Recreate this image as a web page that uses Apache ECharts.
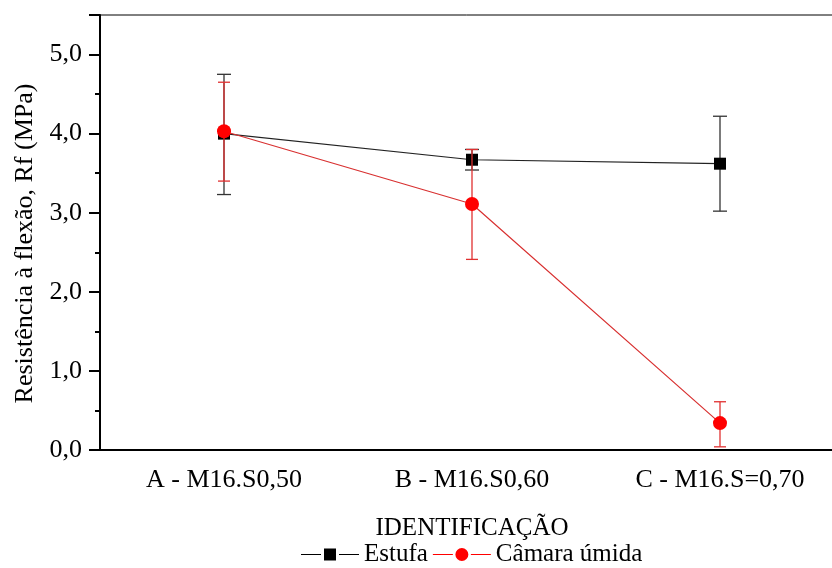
<!DOCTYPE html>
<html>
<head>
<meta charset="utf-8">
<script src="https://cdn.jsdelivr.net/npm/echarts@6/dist/echarts.min.js"></script>
<style>html,body{margin:0;padding:0;background:#fff}#c{width:832px;height:568px}</style>
</head>
<body>
<div id="c"></div>
<script>
const categories = ['A - M16.S0,50', 'B - M16.S0,60', 'C - M16.S=0,70'];
const estufa = [4.00, 3.67, 3.62];
const estufaLow = [3.23, 3.54, 3.02];
const estufaHigh = [4.75, 3.80, 4.22];
const camara = [4.03, 3.11, 0.34];
const camaraLow = [3.40, 2.41, 0.04];
const camaraHigh = [4.65, 3.80, 0.61];
const yTicks = [0, 1, 2, 3, 4, 5];

const FONT = '"Liberation Serif", "Times New Roman", serif';

function errData(low, high) {
  return low.map((l, i) => [i, l, high[i]]);
}
function errRender(color, capW) {
  return function (params, api) {
    const i = api.value(0);
    const lo = api.coord([i, api.value(1)]);
    const hi = api.coord([i, api.value(2)]);
    const st = { stroke: color, lineWidth: 1.3 };
    return {
      type: 'group',
      children: [
        { type: 'line', shape: { x1: lo[0], y1: lo[1], x2: hi[0], y2: hi[1] }, style: st },
        { type: 'line', shape: { x1: lo[0] - capW / 2, y1: lo[1], x2: lo[0] + capW / 2, y2: lo[1] }, style: st },
        { type: 'line', shape: { x1: hi[0] - capW / 2, y1: hi[1], x2: hi[0] + capW / 2, y2: hi[1] }, style: st }
      ]
    };
  };
}

const iconEstufa = 'path://M0,5.9h20v1.2h-20z M23,0.5h12v12h-12z M38,5.9h20v1.2h-20z';
const iconCamara = 'path://M0,5.9h20v1.2h-20z M22.5,6.5a6.5,6.5 0 1,0 13,0a6.5,6.5 0 1,0 -13,0z M38,5.9h20v1.2h-20z';

const chart = echarts.init(document.getElementById('c'));
chart.setOption({
  animation: false,
  backgroundColor: '#fff',
  grid: { left: 100, right: -12, top: 15, bottom: 118, outerBoundsMode: 'none', containLabel: false, show: true, borderColor: '#000', borderWidth: 1, backgroundColor: 'transparent' },
  legend: {
    top: 537,
    left: 296,
    data: [{ name: 'Estufa', icon: iconEstufa }, { name: 'Câmara úmida', icon: iconCamara }],
    itemWidth: 58,
    itemHeight: 13,
    itemGap: 5,
    textStyle: { fontFamily: FONT, fontSize: 25, color: '#000' }
  },
  xAxis: {
    type: 'category',
    data: categories,
    boundaryGap: true,
    name: 'IDENTIFICAÇÃO',
    nameLocation: 'middle',
    nameGap: 66,
    nameTextStyle: { fontFamily: FONT, fontSize: 25, color: '#000' },
    axisLine: { lineStyle: { color: '#000', width: 2 } },
    axisTick: { alignWithLabel: true, length: 11, lineStyle: { color: '#000', width: 2 } },
    axisLabel: { fontFamily: FONT, fontSize: 26, color: '#000', margin: 17 },
    splitLine: { show: false }
  },
  yAxis: {
    type: 'value',
    min: 0,
    max: 5.5,
    interval: 1,
    name: 'Resistência à flexão, Rf (MPa)',
    nameLocation: 'middle',
    nameGap: 62,
    nameTextStyle: { fontFamily: FONT, fontSize: 26, color: '#000', padding: [0, 22, 0, 0] },
    axisLine: { show: true, lineStyle: { color: '#000', width: 2 } },
    axisTick: { show: true, length: 11, lineStyle: { color: '#000', width: 2 } },
    minorTick: { show: true, splitNumber: 2, length: 5, lineStyle: { color: '#000', width: 2 } },
    axisLabel: {
      fontFamily: FONT, fontSize: 26, color: '#000', margin: 18,
      formatter: v => (yTicks.indexOf(v) >= 0 ? v.toFixed(1).replace('.', ',') : '')
    },
    splitLine: { show: false }
  },
  series: [
    {
      name: 'errEstufa', type: 'custom', data: errData(estufaLow, estufaHigh),
      renderItem: errRender('#333', 14), z: 2
    },
    {
      name: 'Estufa', type: 'line', data: estufa,
      symbol: 'rect', symbolSize: 12,
      itemStyle: { color: '#000' },
      lineStyle: { color: '#222', width: 1.2 }, z: 3
    },
    {
      name: 'errCamara', type: 'custom', data: errData(camaraLow, camaraHigh),
      renderItem: errRender('#e03030', 12), z: 4
    },
    {
      name: 'Câmara úmida', type: 'line', data: camara,
      symbol: 'circle', symbolSize: 14,
      itemStyle: { color: '#ff0000' },
      lineStyle: { color: '#d83030', width: 1.2 }, z: 5
    }
  ]
});
</script>
</body>
</html>
